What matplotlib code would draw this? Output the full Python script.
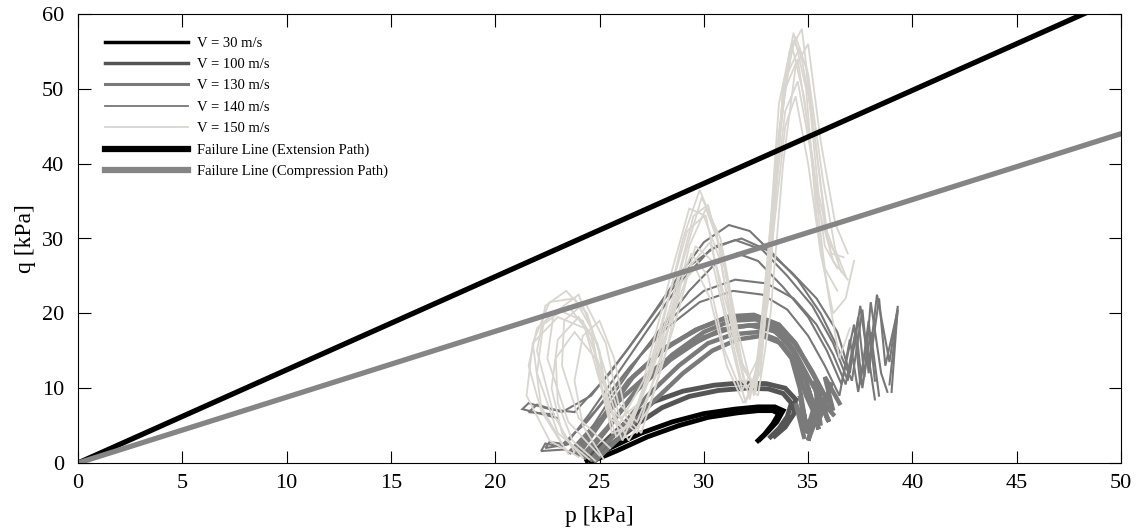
import matplotlib.pyplot as plt
from matplotlib.lines import Line2D

plt.rcParams['font.family'] = ['Liberation Serif', 'DejaVu Serif']

# stress paths (p, q in kPa); each velocity has several cycles
v30_p = [[24.4, 25.5, 27.0, 28.5, 30.0, 31.5, 32.6, 33.4, 33.8, 33.5, 33.0, 32.7],
         [24.6, 25.8, 27.3, 28.8, 30.2, 31.6, 32.6, 33.3, 33.6, 33.3, 32.9, 32.6]]
v30_q = [[0.3, 2.0, 4.0, 5.5, 6.6, 7.2, 7.5, 7.5, 7.0, 5.5, 4.0, 3.2],
         [0.2, 1.6, 3.5, 5.0, 6.1, 6.7, 7.0, 7.0, 6.6, 5.2, 3.8, 3.0]]

v100_p = [[24.5, 25.5, 26.5, 27.6, 29.0, 30.5, 31.8, 33.0, 33.9, 34.4, 34.3, 33.9, 33.4],
          [24.7, 25.8, 26.9, 28.0, 29.3, 30.7, 32.0, 33.1, 33.8, 34.2, 34.0, 33.6, 33.2]]
v100_q = [[0.8, 3.5, 6.0, 8.2, 9.6, 10.4, 10.7, 10.6, 10.0, 8.5, 6.5, 4.8, 3.6],
          [0.5, 3.0, 5.4, 7.4, 8.9, 9.7, 10.0, 9.9, 9.3, 8.0, 6.2, 4.6, 3.5]]

v130_p = [[24.3, 25.5, 27.0, 28.5, 30.0, 31.3, 32.5, 33.5, 34.2, 34.8, 35.2, 35.5, 35.0, 35.6, 35.3, 35.9],
          [24.6, 25.8, 27.3, 28.8, 30.2, 31.4, 32.6, 33.5, 34.2, 34.6, 34.9, 34.6, 35.0, 34.4, 34.8],
          [24.0, 25.2, 26.6, 28.2, 29.8, 31.2, 32.4, 33.6, 34.4, 35.1, 35.7, 36.2, 35.8, 36.5],
          [24.8, 26.0, 27.5, 29.0, 30.4, 31.6, 32.8, 33.7, 34.4, 34.9, 35.4, 35.0, 35.6],
          [23.6, 24.6, 26.0, 27.6, 29.2, 30.8, 32.2, 33.4, 34.3, 35.0, 35.6, 36.0, 35.4, 36.2],
          [24.2, 25.4, 26.8, 28.4, 30.0, 31.5, 32.7, 33.6, 34.3, 34.9, 35.3, 34.9, 35.4],
          [23.9, 25.0, 26.4, 28.0, 29.6, 31.0, 32.3, 33.5, 34.4, 35.2, 35.8, 35.5, 36.1]]
v130_q = [[0.8, 5.0, 10.5, 14.5, 17.5, 19.0, 19.2, 18.0, 15.5, 12.0, 8.0, 4.5, 10.0, 5.0, 11.0, 6.0],
          [0.5, 4.0, 9.0, 13.0, 16.0, 17.2, 17.5, 16.5, 14.0, 10.0, 5.0, 9.0, 4.0, 8.0, 3.5],
          [1.2, 6.0, 11.5, 15.5, 18.0, 19.6, 19.8, 18.5, 16.0, 12.5, 9.5, 7.0, 11.5, 8.0],
          [0.3, 3.5, 8.0, 12.0, 15.0, 16.5, 17.0, 16.0, 13.5, 9.0, 6.0, 3.0, 9.5],
          [1.5, 4.5, 8.5, 12.5, 15.5, 17.8, 18.4, 17.6, 15.2, 11.5, 8.5, 5.5, 9.0, 6.5],
          [1.0, 4.8, 9.8, 13.8, 16.8, 18.2, 18.5, 17.3, 14.8, 11.0, 7.0, 4.0, 8.5],
          [1.4, 5.5, 11.0, 15.0, 17.8, 19.3, 19.6, 18.3, 15.8, 12.2, 9.0, 5.5, 10.5]]

v140_p = [[23.0, 21.3, 21.6, 22.6, 23.8, 25.5, 27.2, 28.8, 30.0, 31.2, 32.2, 33.3, 34.5, 35.6, 36.4, 37.1, 37.6, 37.9, 38.4, 38.7, 39.3, 38.9],
          [23.5, 22.4, 22.6, 23.4, 24.5, 26.0, 27.6, 29.0, 30.3, 31.5, 32.8, 34.0, 35.2, 36.2, 36.9, 37.4, 37.7, 38.0, 38.5, 38.8],
          [24.0, 25.5, 27.0, 28.5, 30.0, 31.5, 33.0, 34.3, 35.4, 36.2, 36.8, 37.3, 37.6, 38.0, 38.4],
          [23.2, 24.8, 26.5, 28.2, 29.8, 31.4, 32.8, 34.0, 35.0, 35.8, 36.5, 37.0, 37.4, 37.8, 38.2],
          [22.8, 21.6, 22.0, 23.2, 24.6, 26.3, 28.0, 29.4, 30.6, 31.8, 33.0, 34.2, 35.4, 36.4, 37.0, 37.5, 37.9, 38.3, 38.9, 39.3, 39.0],
          [23.3, 22.2, 22.4, 23.1, 24.4, 26.0, 27.8, 29.3, 30.5, 31.6, 32.6, 33.8, 35.0, 35.9, 36.6, 37.2, 37.5, 37.9, 38.2]]
v140_q = [[6.0, 7.2, 8.0, 7.2, 6.8, 12.0, 18.5, 25.0, 29.5, 31.8, 31.0, 28.0, 24.5, 20.0, 15.5, 11.0, 20.5, 12.0, 22.0, 13.0, 20.5, 10.5],
          [2.5, 2.0, 2.8, 2.5, 6.5, 12.5, 19.0, 24.5, 28.5, 29.8, 28.5, 25.0, 21.0, 16.0, 11.0, 19.5, 11.5, 21.5, 12.0, 9.5],
          [2.0, 8.5, 14.5, 19.5, 23.0, 24.5, 24.0, 22.0, 18.5, 14.5, 10.5, 18.0, 10.0, 17.5, 9.0],
          [2.2, 7.0, 13.0, 18.0, 21.5, 23.0, 22.5, 20.5, 17.0, 13.0, 9.0, 16.5, 9.5, 16.0, 8.5],
          [6.5, 6.8, 7.8, 6.8, 9.0, 15.0, 21.5, 26.5, 29.0, 30.0, 28.5, 25.5, 22.0, 17.5, 12.0, 21.0, 13.0, 22.5, 13.5, 21.0, 9.5],
          [1.8, 1.6, 2.6, 2.2, 5.5, 11.0, 17.5, 23.0, 26.5, 28.0, 27.0, 23.5, 19.5, 15.0, 10.5, 18.5, 10.5, 19.0, 11.0]]

v150_p = [[24.5, 23.0, 22.0, 22.3, 23.5, 24.6, 25.2, 25.8, 26.6, 27.8, 29.0, 29.8, 30.6, 31.4, 32.2, 32.9, 33.5, 34.1, 34.7, 35.3, 35.9, 36.5],
          [25.0, 23.5, 22.5, 22.8, 24.0, 25.0, 25.5, 26.2, 27.2, 28.5, 29.5, 30.2, 31.0, 31.9, 32.5, 33.2, 33.8, 34.4, 35.0, 35.7, 36.3, 36.8],
          [24.0, 22.6, 21.5, 21.8, 23.0, 24.3, 25.0, 25.6, 26.5, 27.5, 28.6, 29.4, 30.2, 31.0, 31.8, 32.6, 33.3, 33.9, 34.5, 35.2, 35.8, 36.4],
          [25.5, 24.0, 23.2, 23.3, 24.3, 25.3, 25.9, 26.8, 27.9, 29.0, 29.9, 30.8, 31.6, 32.4, 33.1, 33.7, 34.3, 34.9, 35.5, 36.1, 36.7],
          [23.8, 22.8, 22.0, 22.4, 23.4, 24.4, 25.3, 26.0, 26.9, 28.0, 29.2, 30.0, 30.8, 31.7, 32.4, 33.0, 33.6, 34.2, 34.8, 35.5, 36.2, 36.9],
          [24.8, 23.7, 23.0, 22.9, 23.8, 24.8, 25.6, 26.4, 27.4, 28.8, 29.6, 30.4, 31.3, 32.0, 32.8, 33.4, 34.0, 34.6, 35.2, 35.9, 36.6],
          [23.2, 22.2, 21.6, 22.0, 23.0, 24.2, 25.0, 25.8, 26.8, 27.9, 28.9, 29.6, 30.3, 31.1, 31.9, 32.7, 33.3, 33.9, 34.4, 35.0, 35.6, 36.2, 36.8, 37.2],
          [25.2, 24.2, 23.8, 24.2, 25.0, 25.7, 26.3, 27.0, 28.2, 29.3, 30.1, 30.9, 31.7, 32.5, 33.2, 33.8, 34.3, 34.9, 35.4, 36.0, 36.5, 37.0],
          [24.2, 23.2, 22.7, 23.0, 24.0, 24.9, 25.4, 26.1, 27.0, 28.3, 29.4, 30.3, 31.2, 32.0, 32.7, 33.3, 33.9, 34.5, 35.1, 35.8, 36.4],
          [23.5, 22.2, 21.8, 22.6, 23.8, 24.6, 25.1, 25.9, 27.1, 28.4, 29.3, 30.1, 30.9, 31.8, 32.6, 33.2, 33.8, 34.4, 35.0, 35.6, 36.3, 36.9]]
v150_q = [[0.5, 4.0, 12.0, 18.5, 21.0, 17.0, 9.0, 3.5, 6.0, 16.0, 30.0, 36.5, 31.0, 17.0, 8.5, 18.0, 42.0, 55.0, 58.0, 44.0, 30.0, 27.0],
          [1.0, 5.5, 14.0, 20.0, 22.5, 15.0, 6.0, 4.5, 10.0, 22.0, 33.0, 34.5, 26.0, 12.5, 10.0, 26.0, 50.0, 57.0, 52.0, 38.0, 28.5, 25.0],
          [0.8, 3.0, 9.0, 16.0, 19.5, 18.0, 11.0, 4.0, 5.0, 12.0, 22.0, 28.0, 25.0, 15.0, 9.5, 14.0, 35.0, 50.0, 54.0, 41.0, 29.0, 26.0],
          [2.0, 6.0, 13.0, 19.0, 21.5, 16.0, 8.0, 5.5, 13.0, 27.0, 35.5, 30.0, 18.0, 9.0, 22.0, 46.0, 56.5, 53.0, 36.0, 28.0, 27.5],
          [1.5, 6.5, 15.0, 21.0, 23.0, 20.0, 12.0, 6.0, 8.0, 19.0, 31.0, 33.0, 27.0, 14.0, 10.5, 24.0, 48.0, 56.0, 49.0, 34.0, 27.0, 24.5],
          [0.3, 3.0, 8.0, 14.0, 17.5, 14.0, 7.0, 3.0, 7.5, 20.5, 29.0, 27.0, 16.0, 8.0, 15.0, 38.0, 52.0, 55.5, 46.0, 31.0, 25.5],
          [2.5, 7.0, 13.0, 18.0, 20.5, 19.0, 13.0, 6.5, 4.0, 14.0, 24.0, 26.0, 22.0, 13.0, 8.0, 12.0, 30.0, 45.0, 49.0, 40.0, 28.0, 20.0, 22.0, 27.0],
          [0.5, 5.0, 11.0, 17.0, 19.0, 14.0, 6.0, 4.0, 15.0, 29.0, 34.0, 28.0, 14.0, 9.5, 28.0, 50.0, 57.5, 50.0, 33.0, 22.0, 14.0, 18.0],
          [0.7, 4.0, 10.0, 16.5, 19.5, 16.0, 8.0, 3.0, 9.0, 18.0, 26.5, 29.5, 20.0, 10.0, 12.0, 33.0, 47.0, 51.0, 42.0, 26.0, 23.0],
          [1.2, 7.5, 16.0, 21.5, 22.0, 18.0, 10.0, 5.0, 11.0, 25.0, 34.0, 33.0, 22.0, 11.0, 9.0, 20.0, 40.0, 53.0, 56.0, 43.0, 32.0, 28.0]]

# failure lines
fail_p = [0, 50]
ext_slope = 1.245
comp_slope = 0.88

labels = ['V = 30 m/s', 'V = 100 m/s', 'V = 130 m/s', 'V = 140 m/s', 'V = 150 m/s',
          'Failure Line (Extension Path)', 'Failure Line (Compression Path)']
colors = ['#000000', '#555555', '#7a7a7a', '#777777', '#d9d6d0', '#000000', '#858585']

fig = plt.figure(figsize=(11.41, 5.30), dpi=100)
ax = fig.add_axes([0.0684, 0.1264, 0.9141, 0.8472])

series = [(v30_p, v30_q, 3.5), (v100_p, v100_q, 3.5), (v130_p, v130_q, 3.2),
          (v140_p, v140_q, 1.5), (v150_p, v150_q, 1.3)]
for i, (ps, qs, lw) in enumerate(series):
    for p, q in zip(ps, qs):
        ax.plot(p, q, color=colors[i], lw=lw, solid_joinstyle='miter')

ax.plot(fail_p, [ext_slope * x for x in fail_p], color=colors[5], lw=3.8)
ax.plot(fail_p, [comp_slope * x for x in fail_p], color=colors[6], lw=3.8)

# legend
leg_lw = [2.5, 2.5, 2.2, 1.3, 1.3, 4.5, 4.5]
handles = [Line2D([], [], color=c, lw=w) for c, w in zip(colors, leg_lw)]
ax.legend(handles, labels, loc='upper left', bbox_to_anchor=(0.026, 0.95),
          frameon=False, fontsize=10.5, handlelength=5.7, handletextpad=0.6,
          labelspacing=0.56, borderpad=0, borderaxespad=0)

ax.set_xlim(0, 50)
ax.set_ylim(0, 60)
ax.set_xticks(range(0, 51, 5))
ax.set_yticks(range(0, 61, 10))
ax.tick_params(direction='in', top=True, right=True, labelsize=16, length=9)
ax.tick_params(axis='x', pad=8)
ax.tick_params(axis='y', pad=10)
ax.set_xlabel('p [kPa]', fontsize=17, labelpad=9)
ax.set_ylabel('q [kPa]', fontsize=17, labelpad=4)

fig.savefig('out.png', dpi=100)
